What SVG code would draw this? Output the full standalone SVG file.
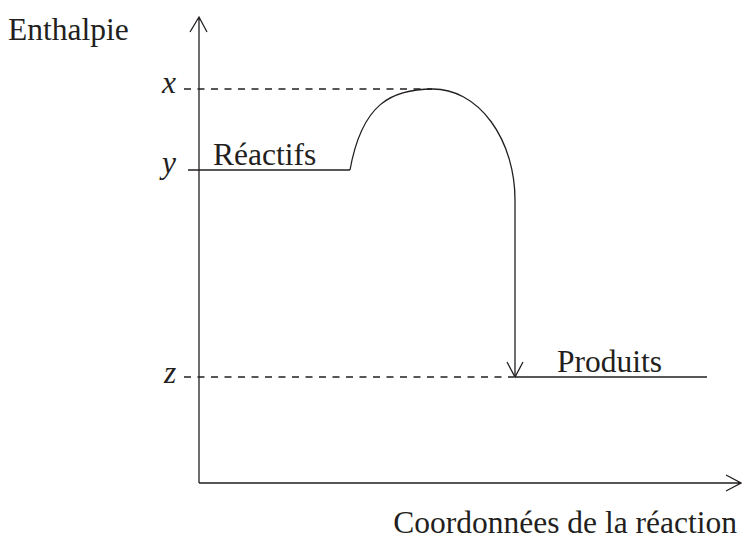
<svg xmlns="http://www.w3.org/2000/svg" width="742" height="541" viewBox="0 0 742 541">
<style>
  text { font-family: "Liberation Serif", "Times New Roman", serif; font-size: 31.5px; fill: #231f20; }
  .it { font-style: italic; }
  .ln { fill: none; stroke: #231f20; stroke-width: 1.3; }
  .dash { fill: none; stroke: #231f20; stroke-width: 1.3; stroke-dasharray: 7 6.5; }
</style>
<rect width="742" height="541" fill="#ffffff"/>
<g id="axes">
  <path class="ln" d="M199,483 L199,17 M190,32 L199,17 L207,32"/>
  <path class="ln" d="M199,483 L741,483 M726,475 L741,483 L726,491"/>
  <text x="8" y="40">Enthalpie</text>
  <text x="737" y="533" text-anchor="end">Coordonnées de la réaction</text>
</g>
<g id="levels">
  <path class="dash" d="M184,89 L432,89"/>
  <path class="dash" d="M184,377 L514,377"/>
  <text class="it" x="162" y="93">x</text>
  <text class="it" x="162" y="173">y</text>
  <text class="it" x="164" y="383">z</text>
</g>
<g id="reactifs">
  <path class="ln" d="M188,170 L350,170"/>
  <text x="213" y="165">Réactifs</text>
</g>
<g id="produits">
  <path class="ln" d="M515,377 L707,377"/>
  <text x="557" y="372">Produits</text>
</g>
<g id="connectors">
  <path class="ln" d="M350,170 C362,103 392,89 433,89 A82,111 0 0 1 515,200 L515,377"/>
  <path class="ln" d="M507,362 L515,377 L523,362"/>
</g>
</svg>
